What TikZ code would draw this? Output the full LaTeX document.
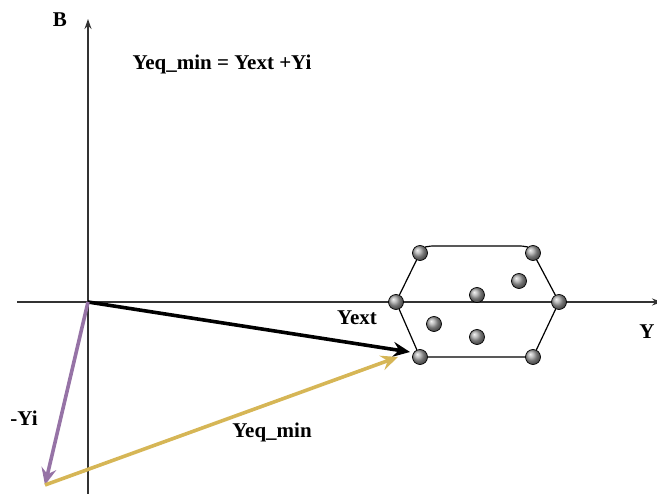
\documentclass[tikz,border=0pt]{standalone}
\usepackage{fontspec}
\setmainfont{Liberation Serif}
\usepackage{tikz}
\usetikzlibrary{arrows.meta, positioning, calc, shadings}
\definecolor{vecpurple}{HTML}{9673A6}
\definecolor{vecgold}{HTML}{D6B656}
\definecolor{axisgray}{HTML}{333333}
\tikzset{
  axis/.style={draw=axisgray, line width=1.3pt, -{Stealth[length=10pt,width=7pt]}},
  vecarrow/.style={line width=3.6pt, -{Stealth[length=17pt,width=15pt,inset=6pt]}},
  point/.style={circle, inner sep=0pt, minimum size=15pt, draw=black, line width=0.7pt, shading=ball, ball color=gray!70},
  lbl/.style={font=\fontsize{21}{24}\selectfont\bfseries},
  hexedge/.style={draw=black, line width=1.2pt}
}

\begin{document}
\begin{tikzpicture}[x=1pt, y=-1pt]
\useasboundingbox (0,0) rectangle (657,494);
% Axes
\coordinate (o) at (88,302);
\coordinate (xs) at (17,302);
\coordinate (xe) at (662,302);
\coordinate (ys) at (88,494);
\coordinate (ye) at (88,19);
\draw[axis] (xs) -- (xe);
\draw[axis] (ys) -- (ye);
\node[lbl] (blab) at (60,20) {B};
\node[lbl, anchor=east] (ylab) at (658,332) {Y};

% Hexagon of points
\node[point] (tl) at (420,253) {};
\node[point] (tr) at (533,253) {};
\node[point] (l) at (396,302) {};
\node[point] (r) at (559,302) {};
\node[point] (bl) at (420,357) {};
\node[point] (br) at (533,357) {};
\node[point] (p1) at (477,295) {};
\node[point] (p2) at (519,281) {};
\node[point] (p3) at (434,324) {};
\node[point] (p4) at (477,337) {};

\draw[hexedge] (tl.50) .. controls (430,246) .. (440,246) -- (513,246) .. controls (523,246) .. (tr.130);
\draw[hexedge] (tr) -- (r) -- (br);
\draw[hexedge] (br) -- (bl) -- (l) -- (tl);

% Vectors
\coordinate (ytip) at (410,352);
\coordinate (yi) at (45,485);
\coordinate (eqtip) at (398,357);
\draw[vecarrow, black] (o) -- (ytip);
\draw[vecarrow, vecpurple] (o) -- (yi);
\draw[vecarrow, vecgold] (yi) -- (eqtip);

% Labels
\node[lbl] (yext) at (357,318) {Yext};
\node[lbl] (yeq) at (272,432) {Yeq\_min};
\node[lbl] (myi) at (24,418) {-Yi};
\node[lbl] (eq) at (222,64) {Yeq\_min = Yext +Yi};
\end{tikzpicture}
\end{document}
